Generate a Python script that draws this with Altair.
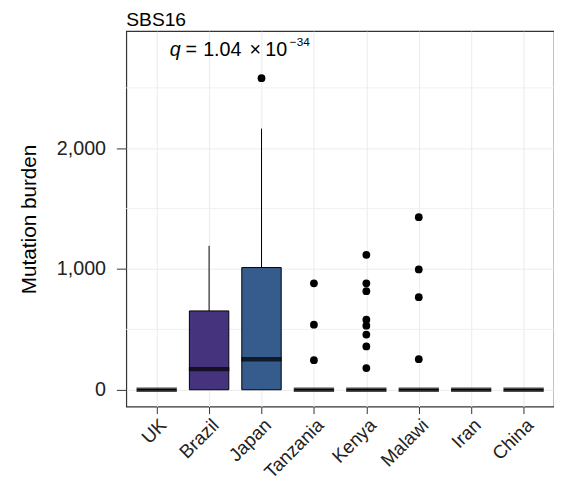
import altair as alt
import pandas as pd

countries = ["UK", "Brazil", "Japan", "Tanzania", "Kenya", "Malawi", "Iran", "China"]
box_colors = ["#440154", "#46337E", "#365C8D", "#277F8E", "#1FA187", "#4AC16D", "#9FDA3A", "#FDE725"]
q1 = [0, 0, 0, 0, 0, 0, 0, 0]
median = [0, 171, 253, 0, 0, 0, 0, 0]
q3 = [0, 653, 1012, 0, 0, 0, 0, 0]
whisker_hi = [0, 1192, 2163, 0, 0, 0, 0, 0]

outlier_country = ["Japan"] + ["Tanzania"] * 3 + ["Kenya"] * 8 + ["Malawi"] * 4
outlier_value = [2580, 882, 539, 245,
                 1118, 882, 816, 580, 531, 457, 359, 180,
                 1429, 996, 767, 253]
minor_grid = [500, 1500, 2500]
y_ticks = [0, 1000, 2000]

FONT = "Liberation Sans"

boxes = pd.DataFrame({"country": countries, "q1": q1, "median": median,
                      "q3": q3, "hi": whisker_hi})
outliers = pd.DataFrame({"country": outlier_country, "value": outlier_value})
grid_df = pd.DataFrame({"v": minor_grid})

xscale = alt.Scale(type="point", domain=countries, padding=0.58)
yscale = alt.Scale(domain=[-140, 2970], nice=False, zero=False)

xenc = alt.X("country:N", scale=xscale, sort=countries,
             axis=alt.Axis(title=None, labelAngle=315, labelAlign="right",
                           labelBaseline="top", grid=True, gridColor="#ebebeb",
                           tickSize=7, labelPadding=2, domain=False,
                           labelFontSize=19))
yaxis = alt.Axis(title="Mutation burden", values=y_ticks, format=",.0f",
                 grid=True, gridColor="#ebebeb", tickSize=10, labelPadding=11,
                 titlePadding=17, domain=False, labelFontSize=20, titleFontSize=21)

minor = alt.Chart(grid_df).mark_rule(color="#f0f0f0", strokeWidth=1).encode(
    y=alt.Y("v:Q", scale=yscale, axis=yaxis))

whisk = alt.Chart(boxes).mark_rule(color="black", strokeWidth=1).encode(
    x=xenc, y=alt.Y("q3:Q", scale=yscale, axis=yaxis), y2="hi:Q")

box = alt.Chart(boxes).mark_bar(size=40, stroke="black", strokeWidth=1).encode(
    x=xenc, y=alt.Y("q1:Q", scale=yscale, axis=yaxis), y2="q3:Q",
    color=alt.Color("country:N", scale=alt.Scale(domain=countries, range=box_colors),
                    legend=None))

med = alt.Chart(boxes).mark_tick(size=41, thickness=4.5, color="black").encode(
    x=xenc, y=alt.Y("median:Q", scale=yscale, axis=yaxis))

pts = alt.Chart(outliers).mark_circle(size=62, color="black", opacity=1).encode(
    x=xenc, y=alt.Y("value:Q", scale=yscale, axis=yaxis))

def txt(s, x, y, size=20, style="normal"):
    return alt.Chart(pd.DataFrame({"t": [s]})).mark_text(
        align="left", baseline="alphabetic", fontSize=size, font=FONT,
        fontStyle=style, color="black").encode(
        text="t:N", x=alt.value(x), y=alt.value(y))

ann = [
    txt("SBS16", 0, -5, 19.5),
    txt("q", 44, 25, 20, "italic"),
    txt("=", 60, 25),
    txt("1.04", 78, 25),
    txt("×", 125, 25),
    txt("10", 141, 25),
    txt("−34", 166, 15, 12),
]

chart = alt.layer(minor, whisk, box, med, pts, *ann).properties(
    width=434, height=381,
    autosize="none",
    padding={"left": 120, "top": 20, "right": 0, "bottom": 76},
).configure_view(stroke="#333333", strokeWidth=1.2).configure_axis(
    labelFont=FONT, titleFont=FONT,
    labelColor="#222222", titleColor="black", tickColor="#333333",
    titleFontWeight="normal")

chart.save("out.html", embed_options={"renderer": "svg", "actions": False})
